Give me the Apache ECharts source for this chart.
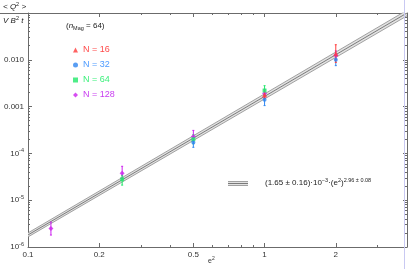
<!DOCTYPE html>
<html><head><meta charset="utf-8">
<script src="https://cdn.jsdelivr.net/npm/echarts@6/dist/echarts.min.js"></script>
<style>html,body{margin:0;padding:0;background:#fff}#c{width:409px;height:269px}</style>
</head><body><div id="c"></div>
<script>
// ---- data ----
const xTickValues = [0.1, 0.2, 0.5, 1, 2];
const xTickLabels = ['0.1', '0.2', '0.5', '1', '2'];
const yTickValues = [1e-6, 1e-5, 1e-4, 1e-3, 1e-2];
const yTickLabels = ['10^-6', '10^-5', '10^-4', '0.001', '0.010'];

// [e^2, value, low, high]
const n16 = [[1, 1.8e-3, 1.5e-3, 2.15e-3], [2, 0.0135, 0.0088, 0.021]];
const n32 = [[0.5, 1.7e-4, 1.35e-4, 2.1e-4], [1, 1.4e-3, 1.05e-3, 1.75e-3], [2, 0.0100, 0.0075, 0.0122]];
const n64 = [[0.25, 2.8e-5, 2.1e-5, 3.4e-5], [0.5, 2.0e-4, 1.6e-4, 2.5e-4], [1, 2.2e-3, 1.75e-3, 2.8e-3]];
const n128 = [[0.125, 2.5e-6, 1.8e-6, 3.4e-6], [0.25, 3.75e-5, 2.9e-5, 5.3e-5], [0.5, 2.3e-4, 1.85e-4, 3.1e-4], [1, 1.9e-3, 1.55e-3, 2.35e-3], [2, 0.0125, 0.0102, 0.0155]];

const fitX = [0.1, 4];
const fitMid = [1.81e-6, 0.1];
const fitHi = [2.0e-6, 0.115];
const fitLo = [1.64e-6, 0.087];

const colors = {n16: '#ff3b3b', n32: '#2f86f0', n64: '#22e86a', n128: '#cc22ee'};
const textColors = {n16: '#ff4a4a', n32: '#4d9bff', n64: '#3cf07c', n128: '#c83cf0'};

// minor tick positions
const xMinor = [];
[0.1, 1].forEach(d => { for (let k = 2; k <= 9; k++) { const v = +(d * k).toPrecision(3); if (v <= 4) xMinor.push(v); } });
const yMinor = [];
[1e-6, 1e-5, 1e-4, 1e-3, 1e-2].forEach(d => { for (let k = 2; k <= 9; k++) yMinor.push(+(d * k).toPrecision(3)); });

const chart = echarts.init(document.getElementById('c'), null, {renderer: 'canvas'});
const FONT = 'Liberation Sans';
const axisColor = '#6b6b6b';

function supLabel(s) {
  if (s.indexOf('^') >= 0) { const p = s.split('^'); return '{b|' + p[0] + '}{s|' + p[1] + '}'; }
  return '{b|' + s + '}';
}
const richLab = {b: {fontSize: 8, fontFamily: FONT, color: '#333'}, s: {fontSize: 5.5, fontFamily: FONT, color: '#333', padding: [0, 0, 6, 0]}};

function errSeries(data, color, idx) {
  return {
    type: 'custom', name: 'err' + idx, xAxisIndex: 0, yAxisIndex: 0, z: 3, silent: true,
    data: data.map(d => [d[0], d[1], d[2], d[3]]),
    encode: {x: 0, y: [1, 2, 3]},
    renderItem: function (params, api) {
      const lo = api.coord([api.value(0), api.value(2)]);
      const hi = api.coord([api.value(0), api.value(3)]);
      const st = {stroke: color, lineWidth: 1};
      return {type: 'group', children: [
        {type: 'line', shape: {x1: lo[0], y1: lo[1], x2: hi[0], y2: hi[1]}, style: st},
        {type: 'line', shape: {x1: lo[0] - 1, y1: lo[1], x2: lo[0] + 1, y2: lo[1]}, style: st},
        {type: 'line', shape: {x1: hi[0] - 1, y1: hi[1], x2: hi[0] + 1, y2: hi[1]}, style: st}
      ]};
    }
  };
}
function ptSeries(name, data, color, symbol, size) {
  return {type: 'scatter', name: name, xAxisIndex: 0, yAxisIndex: 0, z: 4, symbol: symbol, symbolSize: size,
    itemStyle: {color: color}, data: data.map(d => [d[0], d[1]])};
}

const bandData = [[fitX[0], fitLo[0], fitHi[0]], [fitX[1], fitLo[1], fitHi[1]]];

const option = {
  animation: false,
  grid: {left: 28, right: 2, top: 13, bottom: 22, containLabel: false},
  xAxis: [
    {type: 'log', min: 0.1, max: 4, position: 'bottom', axisLine: {lineStyle: {color: axisColor, width: 1}},
     axisTick: {inside: true, length: 4, customValues: xTickValues, lineStyle: {color: axisColor}},
     axisLabel: {customValues: xTickValues, formatter: v => { const i = xTickValues.findIndex(t => Math.abs(t - v) < 1e-9); return i >= 0 ? xTickLabels[i] : ''; }, fontSize: 8, fontFamily: FONT, color: '#333', margin: 4},
     splitLine: {show: false}, minorTick: {show: false}},
    {type: 'log', min: 0.1, max: 4, position: 'bottom', axisLine: {show: false},
     axisTick: {inside: true, length: 2, customValues: xMinor, lineStyle: {color: axisColor}},
     axisLabel: {show: false}, splitLine: {show: false}},
    {type: 'log', min: 0.1, max: 4, position: 'top', axisLine: {lineStyle: {color: axisColor}},
     axisTick: {inside: true, length: 4, customValues: xTickValues, lineStyle: {color: axisColor}},
     axisLabel: {show: false}, splitLine: {show: false}},
    {type: 'log', min: 0.1, max: 4, position: 'top', axisLine: {show: false},
     axisTick: {inside: true, length: 2, customValues: xMinor, lineStyle: {color: axisColor}},
     axisLabel: {show: false}, splitLine: {show: false}}
  ],
  yAxis: [
    {type: 'log', min: 1e-6, max: 0.1, position: 'left', axisLine: {show: true, lineStyle: {color: axisColor}},
     axisTick: {inside: true, length: 4, customValues: yTickValues, lineStyle: {color: axisColor}},
     axisLabel: {customValues: yTickValues, formatter: v => { const i = yTickValues.findIndex(t => Math.abs(Math.log10(t) - Math.log10(v)) < 1e-6); return i >= 0 ? supLabel(yTickLabels[i]) : ''; }, rich: richLab, margin: 4},
     splitLine: {show: false}},
    {type: 'log', min: 1e-6, max: 0.1, position: 'left', axisLine: {show: false},
     axisTick: {inside: true, length: 2, customValues: yMinor, lineStyle: {color: axisColor}},
     axisLabel: {show: false}, splitLine: {show: false}},
    {type: 'log', min: 1e-6, max: 0.1, position: 'right', axisLine: {show: true, lineStyle: {color: axisColor}},
     axisTick: {inside: true, length: 4, customValues: yTickValues, lineStyle: {color: axisColor}},
     axisLabel: {show: false}, splitLine: {show: false}},
    {type: 'log', min: 1e-6, max: 0.1, position: 'right', axisLine: {show: false},
     axisTick: {inside: true, length: 2, customValues: yMinor, lineStyle: {color: axisColor}},
     axisLabel: {show: false}, splitLine: {show: false}}
  ],
  legend: {
    orient: 'vertical', left: 68, top: 40, itemWidth: 5, itemHeight: 5, itemGap: 5,
    textStyle: {fontSize: 9, fontFamily: FONT, lineHeight: 10},
    data: [
      {name: 'N = 16', icon: 'triangle', textStyle: {color: textColors.n16}},
      {name: 'N = 32', icon: 'circle', textStyle: {color: textColors.n32}},
      {name: 'N = 64', icon: 'rect', textStyle: {color: textColors.n64}},
      {name: 'N = 128', icon: 'diamond', textStyle: {color: textColors.n128}}
    ]
  },
  series: [
    {type: 'custom', name: 'band', xAxisIndex: 0, yAxisIndex: 0, z: 1, silent: true, data: bandData,
     encode: {x: 0, y: [1, 2]}, clip: true,
     renderItem: function (params, api) {
       if (params.dataIndex !== 0) return null;
       const a = api.coord([bandData[0][0], bandData[0][1]]);
       const b = api.coord([bandData[1][0], bandData[1][1]]);
       const c = api.coord([bandData[1][0], bandData[1][2]]);
       const d = api.coord([bandData[0][0], bandData[0][2]]);
       return {type: 'polygon', shape: {points: [a, b, c, d]}, style: {fill: '#e2e2e2'}};
     }},
    {type: 'line', name: 'fitLo', xAxisIndex: 0, yAxisIndex: 0, z: 2, symbol: 'none', silent: true,
     lineStyle: {color: '#8c8c8c', width: 0.8}, data: fitX.map((x, i) => [x, fitLo[i]])},
    {type: 'line', name: 'fitHi', xAxisIndex: 0, yAxisIndex: 0, z: 2, symbol: 'none', silent: true,
     lineStyle: {color: '#8c8c8c', width: 0.8}, data: fitX.map((x, i) => [x, fitHi[i]])},
    {type: 'line', name: 'fitMid', xAxisIndex: 0, yAxisIndex: 0, z: 2, symbol: 'none', silent: true,
     lineStyle: {color: '#6e6e6e', width: 0.9}, data: fitX.map((x, i) => [x, fitMid[i]])},
    errSeries(n128, colors.n128, 4),
    errSeries(n64, colors.n64, 3),
    errSeries(n32, colors.n32, 2),
    errSeries(n16, colors.n16, 1),
    ptSeries('N = 128', n128, colors.n128, 'diamond', 5),
    ptSeries('N = 64', n64, colors.n64, 'rect', 4),
    ptSeries('N = 32', n32, colors.n32, 'circle', 4),
    ptSeries('N = 16', n16, colors.n16, 'triangle', 5)
  ],
  graphic: [
    {type: 'line', shape: {x1: 0, y1: 13.5, x2: 28, y2: 13.5}, style: {stroke: axisColor, lineWidth: 1}},
    {type: 'line', shape: {x1: 404.5, y1: 0, x2: 404.5, y2: 269}, style: {stroke: '#c9c9f2', lineWidth: 1}, z: 10},
    {type: 'text', left: 3, top: 1, style: {text: '{b|< Q}{s|2}{b| >}', rich: {b: {fontSize: 8, fontFamily: FONT, fill: '#222', fontStyle: 'italic'}, s: {fontSize: 5.5, fontFamily: FONT, fill: '#222', padding: [0, 0, 6, 0]}}}},
    {type: 'text', left: 3, top: 15, style: {text: '{b|V B}{s|2}{b| t}', rich: {b: {fontSize: 8, fontFamily: FONT, fill: '#222', fontStyle: 'italic'}, s: {fontSize: 5.5, fontFamily: FONT, fill: '#222', padding: [0, 0, 6, 0]}}}},
    {type: 'text', left: 66, top: 22, style: {text: '{b|(}{i|n}{sub|Mag}{b| = 64)}', rich: {b: {fontSize: 8, fontFamily: FONT, fill: '#222'}, i: {fontSize: 8, fontFamily: FONT, fill: '#222', fontStyle: 'italic'}, sub: {fontSize: 5.5, fontFamily: FONT, fill: '#222', padding: [5, 0, 0, 0]}}}},
    {type: 'text', left: 208, top: 256, style: {text: '{b|e}{s|2}', rich: {b: {fontSize: 7, fontFamily: FONT, fill: '#333'}, s: {fontSize: 5, fontFamily: FONT, fill: '#333', padding: [0, 0, 5, 0]}}}},
    {type: 'rect', shape: {x: 228, y: 181.5, width: 20, height: 4}, style: {fill: '#e2e2e2'}},
    {type: 'line', shape: {x1: 228, y1: 181.5, x2: 248, y2: 181.5}, style: {stroke: '#8c8c8c', lineWidth: 0.8}},
    {type: 'line', shape: {x1: 228, y1: 183.5, x2: 248, y2: 183.5}, style: {stroke: '#6e6e6e', lineWidth: 0.9}},
    {type: 'line', shape: {x1: 228, y1: 185.5, x2: 248, y2: 185.5}, style: {stroke: '#8c8c8c', lineWidth: 0.8}},
    {type: 'text', left: 265, top: 177, style: {text: '{b|(1.65 ± 0.16)·10}{s|−3}{b|·(e}{s|2}{b|)}{s|2.96 ± 0.08}', rich: {b: {fontSize: 8, fontFamily: FONT, fill: '#222'}, s: {fontSize: 5.5, fontFamily: FONT, fill: '#222', padding: [0, 0, 6, 0]}}}}
  ]
};
chart.setOption(option);
</script></body></html>
